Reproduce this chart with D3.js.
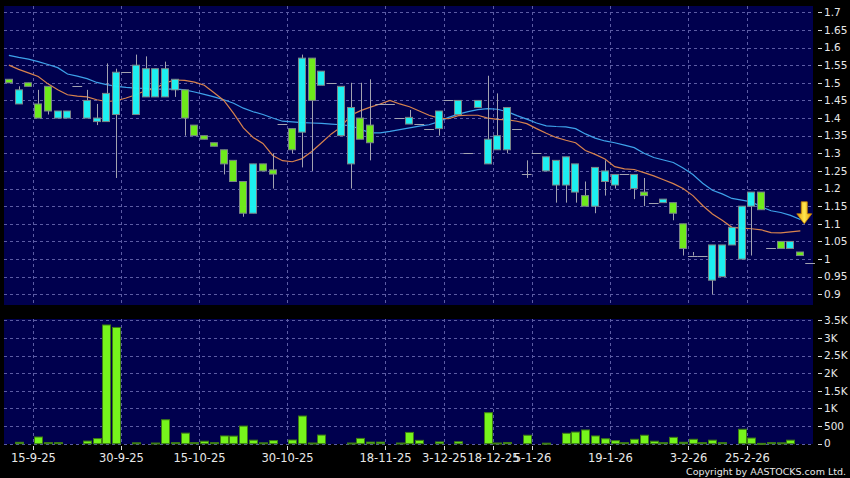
<!DOCTYPE html>
<html>
<head>
<meta charset="utf-8">
<script src="https://cdn.jsdelivr.net/npm/d3@7"></script>
<style>
body { margin: 0; background: #000; }
svg { display: block; }
text { font-family: "DejaVu Sans", sans-serif; fill: #e8e8e8; }
</style>
</head>
<body>
<div id="chart"></div>
<script>
//Daily candles (one entry per trading slot)
var open = [1.51,1.44,1.50,1.44,1.49,1.40,1.40,1.49,1.40,1.39,
    1.39,1.41,1.53,1.41,1.46,1.46,1.46,1.48,1.48,1.38,
    1.35,1.33,1.31,1.28,1.22,1.13,1.27,1.253,1.383,1.37,
    1.36,1.57,1.493,1.50,1.35,1.27,1.40,1.38,1.44,1.44,
    1.40,1.383,1.383,1.37,1.37,1.45,1.41,1.30,1.43,1.27,
    1.31,1.31,1.37,1.24,1.30,1.25,1.21,1.21,1.19,1.18,
    1.15,1.22,1.21,1.24,1.20,1.19,1.16,1.16,1.16,1.10,
    1.01,1.01,0.94,0.95,1.04,1.00,1.15,1.19,1.03,1.05,
    1.03,1.02,0.99];
var high = [1.51,1.49,1.50,1.48,1.49,1.42,1.42,1.49,1.48,1.44,
    1.555,1.54,1.53,1.58,1.575,1.54,1.56,1.51,1.48,1.38,
    1.35,1.33,1.31,1.28,1.22,1.27,1.27,1.30,1.383,1.37,
    1.58,1.57,1.533,1.50,1.49,1.50,1.50,1.51,1.44,1.44,
    1.40,1.423,1.383,1.37,1.42,1.45,1.45,1.30,1.45,1.52,
    1.47,1.43,1.37,1.28,1.30,1.29,1.28,1.29,1.27,1.22,
    1.26,1.28,1.24,1.24,1.24,1.23,1.16,1.17,1.16,1.10,
    1.02,1.01,1.04,1.04,1.09,1.15,1.19,1.19,1.03,1.05,
    1.05,1.02,0.99];
var low = [1.50,1.44,1.49,1.40,1.41,1.40,1.40,1.49,1.40,1.38,
    1.39,1.23,1.53,1.41,1.46,1.46,1.46,1.46,1.35,1.35,
    1.34,1.32,1.24,1.22,1.12,1.13,1.25,1.20,1.383,1.30,
    1.26,1.25,1.493,1.50,1.35,1.20,1.34,1.28,1.44,1.44,
    1.40,1.383,1.383,1.37,1.35,1.45,1.41,1.30,1.43,1.27,
    1.31,1.30,1.37,1.23,1.30,1.25,1.16,1.16,1.16,1.15,
    1.13,1.18,1.20,1.24,1.17,1.15,1.16,1.16,1.11,1.01,
    1.01,1.01,0.90,0.95,1.04,1.00,1.01,1.14,1.03,1.03,
    1.03,1.01,0.99];
var close = [1.50,1.48,1.49,1.40,1.42,1.42,1.42,1.49,1.45,1.40,
    1.47,1.53,1.53,1.55,1.54,1.54,1.54,1.51,1.40,1.35,
    1.34,1.32,1.27,1.22,1.13,1.27,1.25,1.241,1.383,1.31,
    1.57,1.45,1.533,1.50,1.49,1.43,1.34,1.33,1.44,1.44,
    1.40,1.402,1.383,1.37,1.42,1.45,1.45,1.30,1.45,1.34,
    1.35,1.43,1.37,1.24,1.30,1.29,1.28,1.29,1.27,1.15,
    1.26,1.25,1.24,1.24,1.24,1.18,1.16,1.17,1.13,1.03,
    1.01,1.01,1.04,1.04,1.09,1.15,1.19,1.14,1.03,1.03,
    1.05,1.01,0.99];
var volume = [0,40,0,190,30,30,0,0,75,145,
    3370,3300,0,25,0,20,680,30,300,30,
    70,30,220,215,500,100,25,88,0,105,
    785,20,245,0,0,20,150,45,45,0,
    20,320,95,0,50,0,55,0,0,880,
    20,35,0,240,0,15,0,295,330,390,
    220,140,85,30,125,240,70,30,180,40,
    125,30,100,30,0,410,160,10,30,25,
    100,0,0];

//Moving averages as drawn on the chart
var maShort = [1.550,1.538,1.528,1.518,1.497,1.480,1.466,1.462,1.460,1.452,
    1.447,1.449,1.457,1.466,1.478,1.484,1.500,1.508,1.507,1.502,
    1.493,1.472,1.450,1.413,1.372,1.345,1.328,1.294,1.279,1.276,
    1.285,1.305,1.330,1.355,1.375,1.408,1.421,1.431,1.440,1.450,
    1.440,1.432,1.420,1.408,1.400,1.398,1.407,1.408,1.408,1.400,
    1.396,1.395,1.391,1.384,1.370,1.357,1.345,1.337,1.330,1.308,
    1.297,1.284,1.262,1.256,1.254,1.245,1.236,1.225,1.214,1.200,
    1.180,1.152,1.128,1.110,1.090,1.088,1.086,1.083,1.075,1.074,
    1.077,1.080,null];
var maLong = [1.578,1.572,1.567,1.560,1.552,1.543,1.525,1.519,1.512,1.501,
    1.495,1.490,1.487,1.485,1.484,1.482,1.482,1.483,1.480,1.474,
    1.467,1.460,1.452,1.442,1.428,1.418,1.410,1.400,1.391,1.389,
    1.387,1.386,1.385,1.383,1.381,1.378,1.368,1.358,1.358,1.362,
    1.367,1.372,1.377,1.381,1.390,1.402,1.411,1.418,1.424,1.427,
    1.425,1.418,1.407,1.397,1.386,1.378,1.376,1.375,1.370,1.355,
    1.343,1.335,1.330,1.323,1.316,1.300,1.288,1.281,1.274,1.258,
    1.240,1.215,1.195,1.185,1.172,1.167,1.162,1.148,1.137,1.132,
    1.124,1.112,null];

//Axis ticks
var priceTicks = [0.9,0.95,1,1.05,1.1,1.15,1.2,1.25,1.3,1.35,1.4,1.45,1.5,1.55,1.6,1.65,1.7];
var volTicks = [0,500,1000,1500,2000,2500,3000,3500];
var volTickLabels = ["0","500","1K","1.5K","2K","2.5K","3K","3.5K"];
var dateLabels = ["15-9-25","30-9-25","15-10-25","30-10-25","18-11-25","3-12-25","18-12-25","5-1-26","19-1-26","3-2-26","25-2-26"];
var dateIndex = [2,11,19,28,38,44,49,53,61,69,75];

//Arrow marker on the last bars
var markerIndex = 81;
var markerPrice = 1.10;

var width = 850;
var height = 478;
var panelLeft = 4, panelRight = 813;
var priceTop = 6, priceBottom = 305;
var volTop = 319, volBottom = 444;

var bgColor = '#00004e';
var gridColor = '#5c5ca4';
var upColor = '#1ef6f6';
var downColor = '#72f21a';

var svg = d3.select('#chart').append('svg')
    .attr('width', width)
    .attr('height', height);

svg.append('rect')
    .attr('width', width)
    .attr('height', height)
    .attr('fill', '#000');

//Scales
var x = d3.scaleBand()
    .domain(d3.range(open.length))
    .range([4, 815])
    .paddingInner(0.15)
    .paddingOuter(0.075);
var cx = function(i) { return x(i) + x.bandwidth() / 2; };

var y = d3.scaleLinear().domain([0.9, 1.7]).range([294.3, 12.3]);
var yVol = d3.scaleLinear().domain([0, 3500]).range([443.7, 320.4]);

//Panel backgrounds
svg.append('rect')
    .attr('x', panelLeft).attr('y', priceTop)
    .attr('width', panelRight - panelLeft).attr('height', priceBottom - priceTop)
    .attr('fill', bgColor);
svg.append('rect')
    .attr('x', panelLeft).attr('y', volTop)
    .attr('width', panelRight - panelLeft).attr('height', volBottom - volTop)
    .attr('fill', bgColor);

var gridX = function(i) { return Math.round(cx(i) + x.step() / 2) + 0.5; };

//Grid lines
var grid = svg.append('g')
    .attr('stroke', gridColor)
    .attr('stroke-dasharray', '3,3')
    .attr('stroke-width', 1);

grid.selectAll('.hgrid').data(priceTicks).enter().append('line')
    .attr('x1', panelLeft).attr('x2', panelRight)
    .attr('y1', function(d) { return Math.round(y(d)) + 0.5; })
    .attr('y2', function(d) { return Math.round(y(d)) + 0.5; });

grid.selectAll('.vgrid').data(volTicks).enter().append('line')
    .attr('x1', panelLeft).attr('x2', panelRight)
    .attr('y1', function(d) { return Math.round(yVol(d)) + 0.5; })
    .attr('y2', function(d) { return Math.round(yVol(d)) + 0.5; });

grid.selectAll('.dgrid').data(dateIndex).enter().append('line')
    .attr('x1', gridX).attr('x2', gridX)
    .attr('y1', priceTop).attr('y2', priceBottom);

grid.selectAll('.dgrid2').data(dateIndex).enter().append('line')
    .attr('x1', gridX).attr('x2', gridX)
    .attr('y1', volTop).attr('y2', volBottom);

//Moving average lines
var maLine = d3.line()
    .defined(function(d) { return d != null; })
    .x(function(d, i) { return cx(i); })
    .y(function(d) { return y(d); });

svg.append('path')
    .datum(maLong)
    .attr('d', maLine)
    .attr('fill', 'none')
    .attr('stroke', '#3ea2ea')
    .attr('stroke-width', 1.2);

svg.append('path')
    .datum(maShort)
    .attr('d', maLine)
    .attr('fill', 'none')
    .attr('stroke', '#d8834e')
    .attr('stroke-width', 1.2);

//Candles
var idx = d3.range(open.length);
var candles = svg.append('g').attr('opacity', 0.97);

candles.selectAll('.wick').data(idx).enter().append('line')
    .attr('x1', function(i) { return Math.round(cx(i)) + 0.5; })
    .attr('x2', function(i) { return Math.round(cx(i)) + 0.5; })
    .attr('y1', function(i) { return y(high[i]); })
    .attr('y2', function(i) { return y(low[i]); })
    .attr('stroke', '#a9a9b4')
    .attr('stroke-width', 1);

candles.selectAll('.body').data(idx.filter(function(i) { return open[i] !== close[i]; }))
    .enter().append('rect')
    .attr('x', function(i) { return Math.round(x(i)) + 0.5; })
    .attr('width', Math.round(x.bandwidth()) - 1)
    .attr('y', function(i) { return y(Math.max(open[i], close[i])); })
    .attr('height', function(i) { return Math.max(1, Math.abs(y(open[i]) - y(close[i]))); })
    .attr('fill', function(i) { return close[i] > open[i] ? upColor : downColor; })
    .attr('stroke', '#7f8a8a')
    .attr('stroke-width', 1);

//Flat bars are drawn as a dash across the slot
candles.selectAll('.flat').data(idx.filter(function(i) { return open[i] === close[i]; }))
    .enter().append('line')
    .attr('x1', function(i) { return cx(i) - x.step() / 2; })
    .attr('x2', function(i) { return cx(i) + x.step() / 2; })
    .attr('y1', function(i) { return Math.round(y(close[i])) + 0.5; })
    .attr('y2', function(i) { return Math.round(y(close[i])) + 0.5; })
    .attr('stroke', '#a9a9b4')
    .attr('stroke-width', 1);

//Volume bars
svg.append('g').selectAll('rect').data(idx.filter(function(i) { return volume[i] > 0; }))
    .enter().append('rect')
    .attr('x', function(i) { return Math.round(x(i)) + 0.5; })
    .attr('width', Math.round(x.bandwidth()))
    .attr('y', function(i) { return yVol(volume[i]); })
    .attr('height', function(i) { return Math.max(1, yVol(0) - yVol(volume[i])); })
    .attr('fill', '#76f41c')
    .attr('stroke', '#3d7d14')
    .attr('stroke-width', 1);

//Arrow marker
var defs = svg.append('defs');
var grad = defs.append('linearGradient').attr('id', 'arrowGrad')
    .attr('x1', '0%').attr('x2', '100%').attr('y1', '0%').attr('y2', '0%');
grad.append('stop').attr('offset', '0%').attr('stop-color', '#e59a00');
grad.append('stop').attr('offset', '50%').attr('stop-color', '#ffe850');
grad.append('stop').attr('offset', '100%').attr('stop-color', '#e59a00');

var ax = cx(markerIndex) + x.step() * 0.4;
var ay = y(markerPrice);
svg.append('path')
    .attr('d', 'M' + (ax - 3) + ',' + (ay - 22) +
        ' L' + (ax + 3) + ',' + (ay - 22) +
        ' L' + (ax + 3) + ',' + (ay - 10) +
        ' L' + (ax + 7.5) + ',' + (ay - 10) +
        ' L' + ax + ',' + ay +
        ' L' + (ax - 7.5) + ',' + (ay - 10) +
        ' L' + (ax - 3) + ',' + (ay - 10) + ' Z')
    .attr('fill', 'url(#arrowGrad)')
    .attr('stroke', '#c88400')
    .attr('stroke-width', 0.8);

//Right axis labels
var axisG = svg.append('g');
axisG.selectAll('.ptick').data(priceTicks).enter().append('line')
    .attr('x1', 818).attr('x2', 822)
    .attr('y1', function(d) { return Math.round(y(d)) + 0.5; })
    .attr('y2', function(d) { return Math.round(y(d)) + 0.5; })
    .attr('stroke', '#d8d8d8');
axisG.selectAll('.plabel').data(priceTicks).enter().append('text')
    .attr('x', 824)
    .attr('y', function(d) { return y(d); })
    .attr('dy', '0.36em')
    .style('font-size', '10.5px')
    .text(function(d) { return String(d); });

axisG.selectAll('.vtick').data(volTicks).enter().append('line')
    .attr('x1', 818).attr('x2', 822)
    .attr('y1', function(d) { return Math.round(yVol(d)) + 0.5; })
    .attr('y2', function(d) { return Math.round(yVol(d)) + 0.5; })
    .attr('stroke', '#d8d8d8');
axisG.selectAll('.vlabel').data(volTicks).enter().append('text')
    .attr('x', 824)
    .attr('y', function(d) { return yVol(d); })
    .attr('dy', '0.36em')
    .style('font-size', '10.5px')
    .text(function(d, i) { return volTickLabels[i]; });

//Date labels along the bottom
axisG.selectAll('.dtick').data(dateIndex).enter().append('line')
    .attr('x1', gridX).attr('x2', gridX)
    .attr('y1', 446).attr('y2', 450)
    .attr('stroke', '#d8d8d8');
axisG.selectAll('.dlabel').data(dateIndex).enter().append('text')
    .attr('x', gridX)
    .attr('y', 462)
    .attr('text-anchor', 'middle')
    .style('font-size', '11.5px')
    .text(function(d, i) { return dateLabels[i]; });

svg.append('text')
    .attr('x', 846)
    .attr('y', 475)
    .attr('text-anchor', 'end')
    .style('font-size', '9.5px')
    .text('Copyright by AASTOCKS.com Ltd.');
</script>
</body>
</html>
